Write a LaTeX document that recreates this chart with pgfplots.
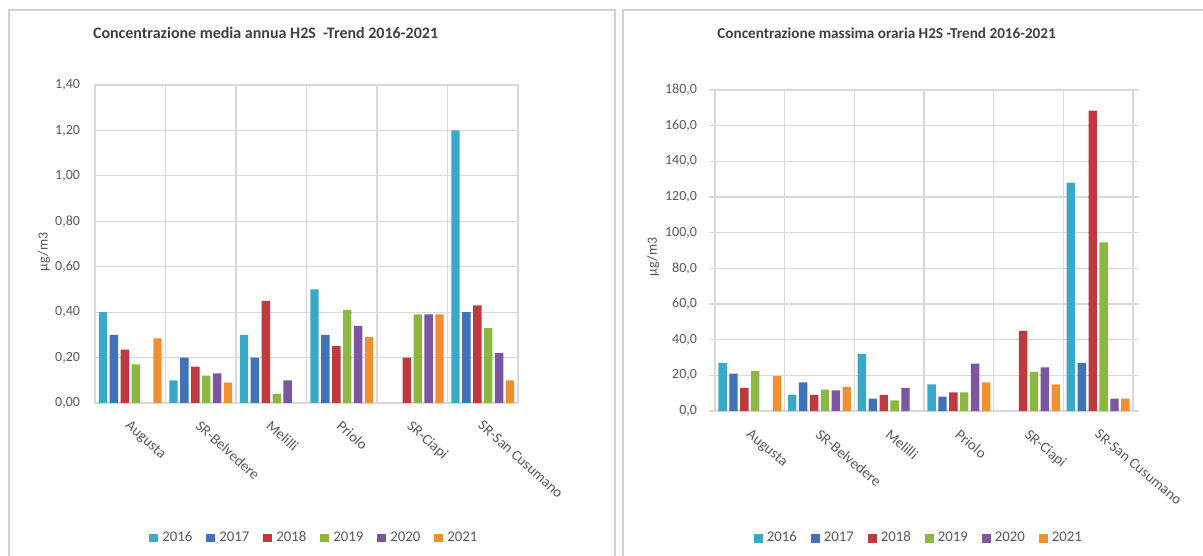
\documentclass[border=0pt]{standalone}
\usepackage{pgfplots}
\usepackage{pgfplotstable}
\pgfplotsset{compat=1.18}
\usepackage{fontspec}
\setmainfont{Carlito}
\definecolor{c16}{HTML}{38A9C9}
\definecolor{c17}{HTML}{3F72B8}
\definecolor{c18}{HTML}{C0393D}
\definecolor{c19}{HTML}{8CB840}
\definecolor{c20}{HTML}{7D55A0}
\definecolor{c21}{HTML}{F29030}
\definecolor{gridc}{HTML}{D9D9D9}
\definecolor{txt}{HTML}{595959}
\definecolor{ttl}{HTML}{404040}

\pgfplotstableread{
x y16 y17 y18 y19 y20 y21
0 0.40 0.30 0.235 0.17 nan 0.285
1 0.10 0.20 0.16 0.12 0.13 0.09
2 0.30 0.20 0.45 0.04 0.10 nan
3 0.50 0.30 0.25 0.41 0.34 0.29
4 nan nan 0.20 0.39 0.39 0.39
5 1.20 0.40 0.43 0.33 0.22 0.10
}\leftdata
\pgfplotstableread{
x y16 y17 y18 y19 y20 y21
0 27 21 13 22.5 nan 19.5
1 9 16 9 12 11.5 13.5
2 32 7 9 6 13 nan
3 15 8 10.5 10.5 26.5 16
4 nan nan 45 22 24.5 15
5 128 27 168.5 94.5 7 7
}\rightdata

\pgfplotsset{
  h2s/.style={
    scale only axis,
    anchor=south west,
    ybar=1.25pt, bar width=4.2pt,
    xmin=-0.5, xmax=5.5,
    xtick={0,...,5},
    xticklabels={Augusta,SR-Belvedere,Melilli,Priolo,SR-Ciapi,SR-San Cusumano},
    minor xtick={0.5,1.5,2.5,3.5,4.5},
    xminorgrids, ymajorgrids,
    grid style={gridc, line width=0.6pt},
    minor grid style={gridc, line width=0.6pt},
    axis line style={gridc, line width=0.6pt},
    xtick style={draw=none}, minor tick length=0pt,
    tick label style={font=\fontsize{7}{8}\selectfont, text=txt},
    yticklabel style={xshift=-4pt},
    /pgf/number format/assume math mode=true,
    ylabel={μg/m3},
    ylabel style={font=\fontsize{7}{8}\selectfont, text=txt, anchor=center},
    legend columns=6,
    legend style={draw=none, fill=none, font=\fontsize{7.4}{8}\selectfont, text=txt,
      /tikz/every even column/.append style={column sep=5pt}},
    legend image code/.code={\fill[##1] (0pt,-2.2pt) rectangle (4.5pt,2.2pt);},
    every axis plot/.append style={draw=none},
  }
}

\begin{document}
\begin{tikzpicture}
\useasboundingbox (0,0) rectangle (601.5pt,278pt);
\draw[gray!35, line width=0.7pt] (4.5pt,-1pt) -- (4.5pt,273pt) -- (307.5pt,273pt) -- (307.5pt,-1pt);
\draw[gray!35, line width=0.7pt] (311.5pt,-1pt) -- (311.5pt,273pt) -- (603pt,273pt);
\node[font=\bfseries\fontsize{8}{9}\selectfont, text=ttl] at (132.8pt,261.5pt) {Concentrazione media annua H2S\ \ -Trend 2016-2021};
\node[font=\bfseries\fontsize{7.6}{9}\selectfont, text=ttl] at (443.3pt,261.5pt) {Concentrazione massima oraria H2S -Trend 2016-2021};

\begin{axis}[h2s,
  at={(47.5pt,76.5pt)}, width=211.5pt, height=159pt,
  ymin=0, ymax=1.4, ytick={0,0.2,...,1.41},
  major tick length=0pt,
  xticklabel style={xshift=0.5pt, yshift=-8pt, rotate=-42, anchor=north west, inner sep=0pt, font=\fontsize{7.4}{8}\selectfont},
  yticklabel style={/pgf/number format/.cd, fixed, fixed zerofill, precision=2, use comma},
  ylabel style={at={(rel axis cs:-0.1206,0.475)}},
  legend style={at={(0.521,-0.4245)}, anchor=center},
]
\addplot[fill=c16] table[x=x,y=y16]{\leftdata};
\addplot[fill=c17] table[x=x,y=y17]{\leftdata};
\addplot[fill=c18] table[x=x,y=y18]{\leftdata};
\addplot[fill=c19] table[x=x,y=y19]{\leftdata};
\addplot[fill=c20] table[x=x,y=y20]{\leftdata};
\addplot[fill=c21] table[x=x,y=y21]{\leftdata};
\legend{2016,2017,2018,2019,2020,2021}
\end{axis}

\begin{axis}[h2s,
  at={(357.5pt,72.5pt)}, width=209pt, height=160.5pt,
  ymin=0, ymax=180, ytick={0,20,...,180},
  major tick length=3pt, tick align=outside, ytick style={draw=gridc, line width=0.6pt},
  xticklabel style={xshift=1pt, yshift=-5.5pt, rotate=-40, anchor=north west, inner sep=0pt, font=\fontsize{7.4}{8}\selectfont},
  yticklabel style={xshift=1.5pt, /pgf/number format/.cd, fixed, fixed zerofill, precision=1, use comma},
  ylabel style={at={(rel axis cs:-0.148,0.48)}},
  legend style={at={(0.49,-0.396)}, anchor=center},
]
\addplot[fill=c16] table[x=x,y=y16]{\rightdata};
\addplot[fill=c17] table[x=x,y=y17]{\rightdata};
\addplot[fill=c18] table[x=x,y=y18]{\rightdata};
\addplot[fill=c19] table[x=x,y=y19]{\rightdata};
\addplot[fill=c20] table[x=x,y=y20]{\rightdata};
\addplot[fill=c21] table[x=x,y=y21]{\rightdata};
\legend{2016,2017,2018,2019,2020,2021}
\end{axis}
\end{tikzpicture}
\end{document}
